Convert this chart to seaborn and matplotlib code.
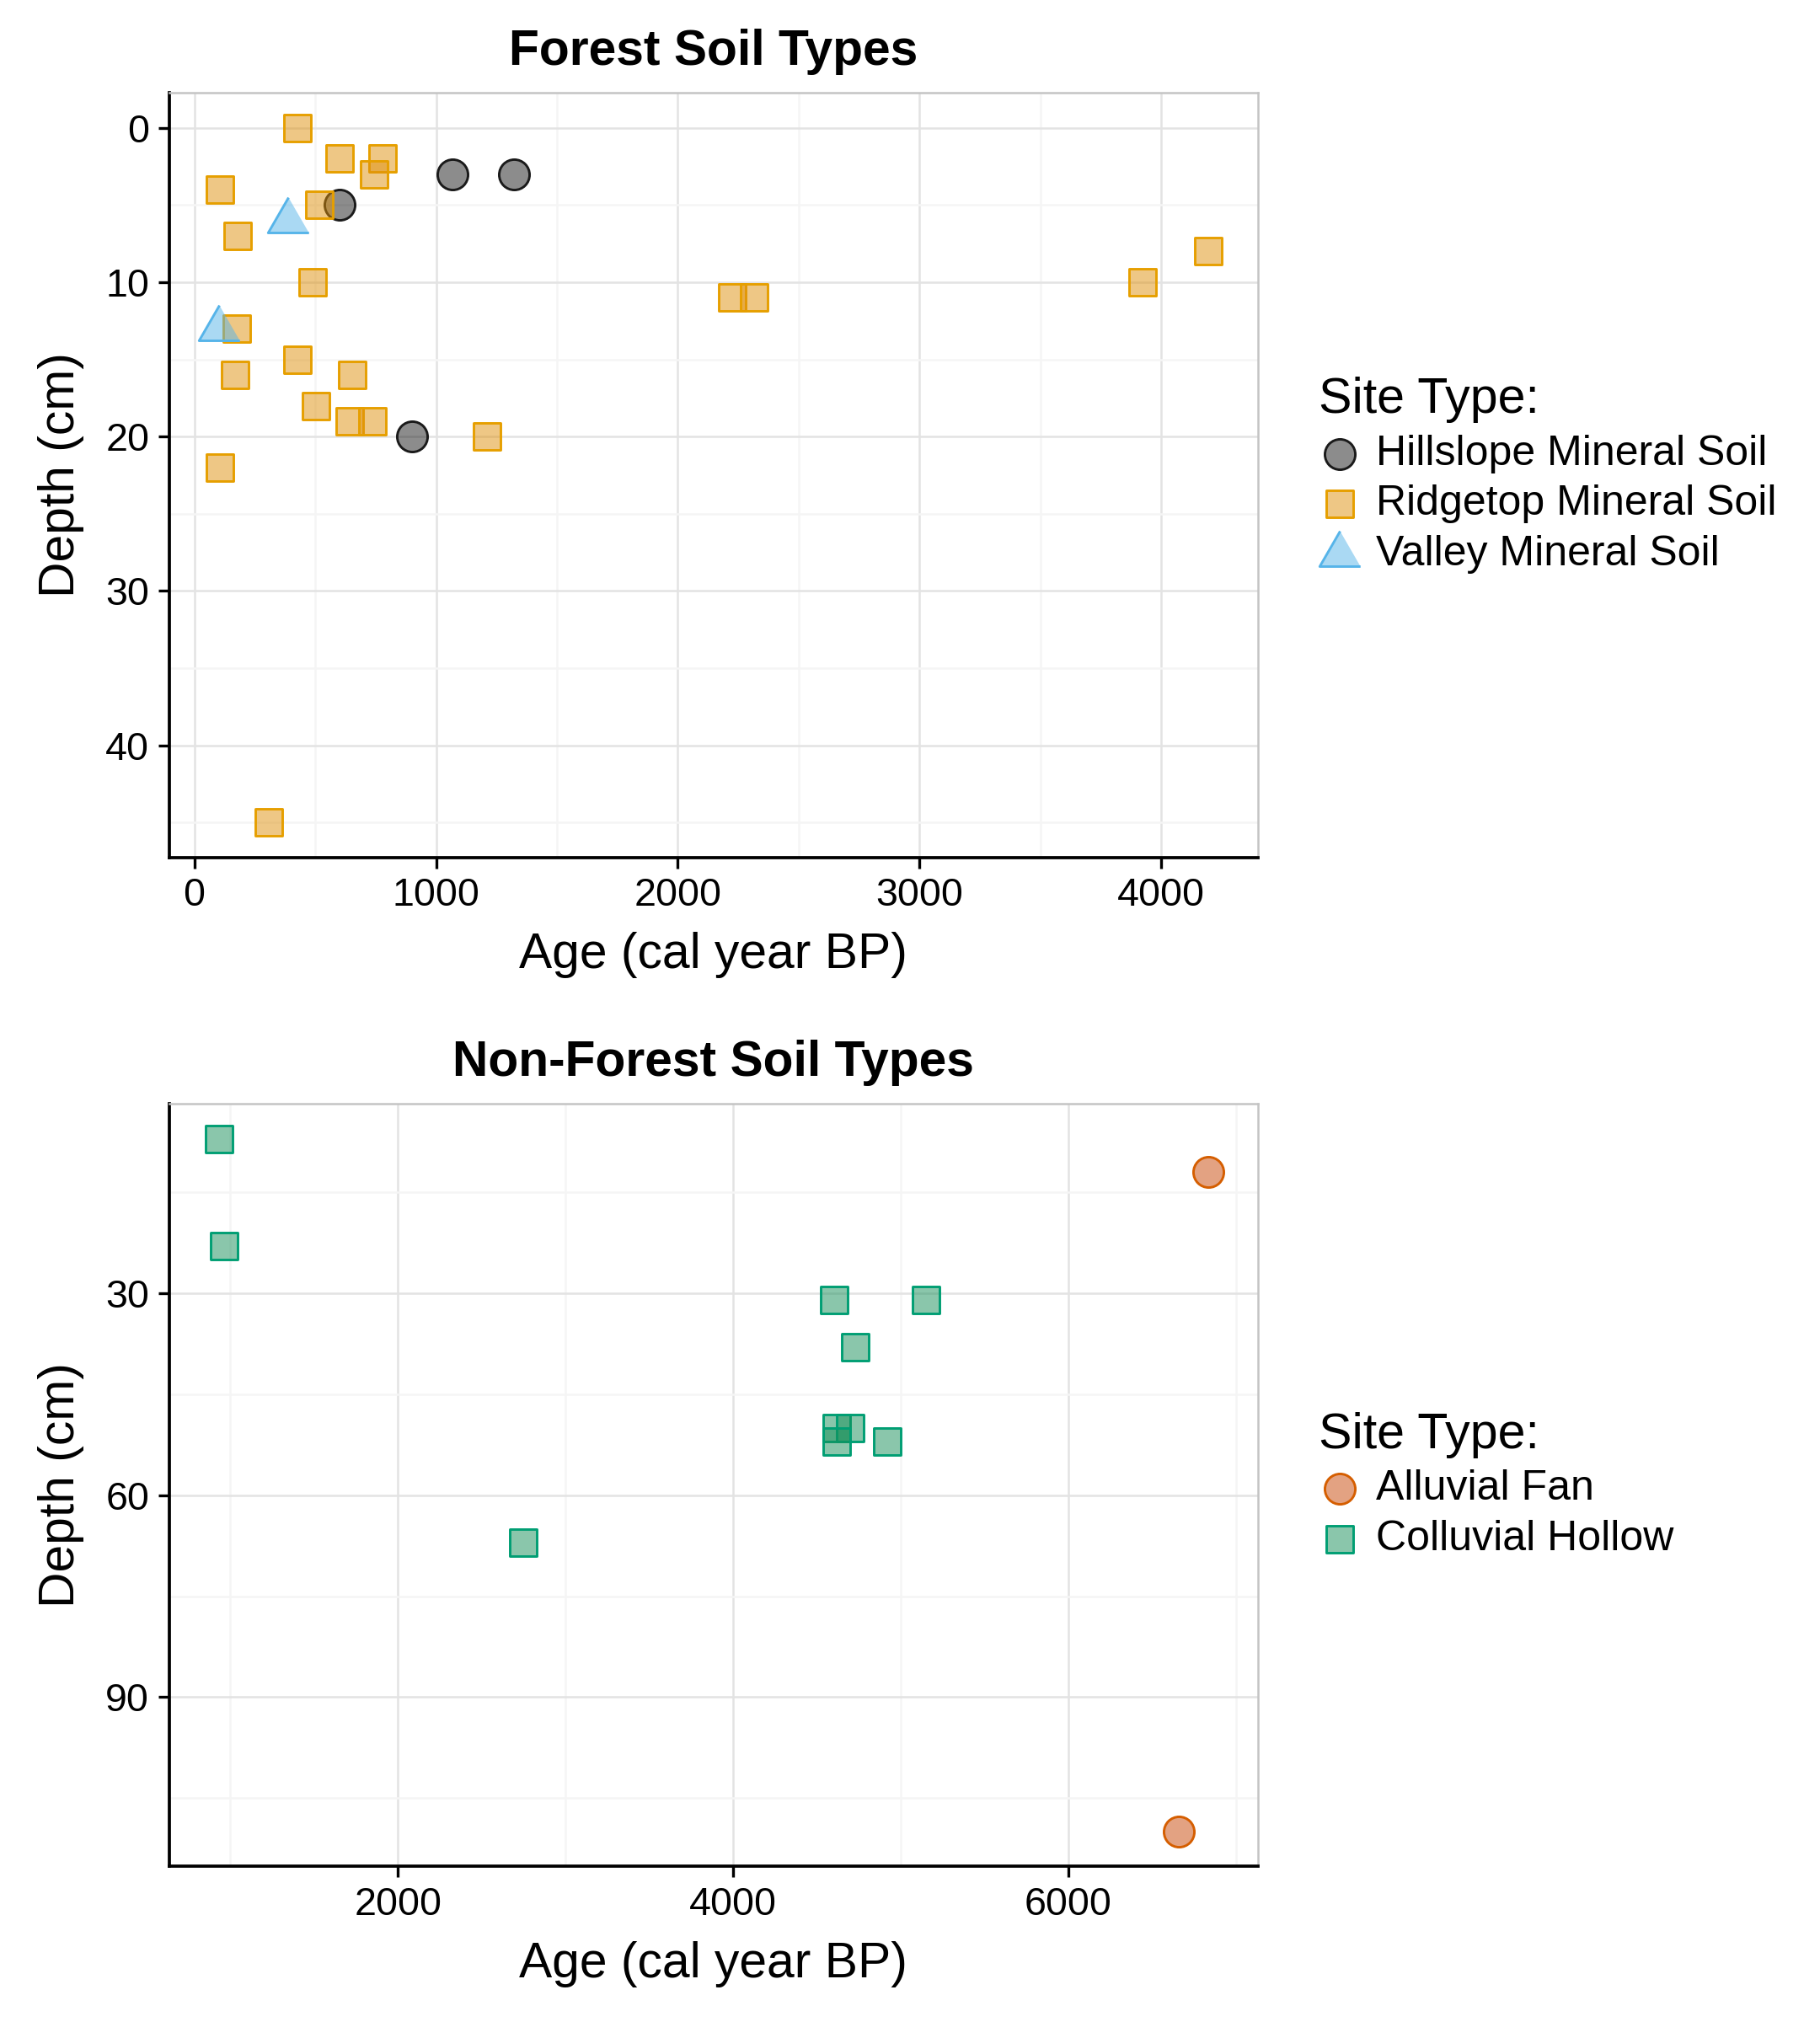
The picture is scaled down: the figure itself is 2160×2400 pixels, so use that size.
import numpy as np
import pandas as pd
import matplotlib
matplotlib.use("Agg")
import matplotlib.pyplot as plt
from matplotlib.ticker import MultipleLocator
import seaborn as sns

# ─── Data ─────────────────────────────────────────────────────────────────────
hill_age     = [602, 1068, 1322, 902]
hill_depth   = [5, 3, 3, 20]

ridge_age    = [428, 602, 779, 745, 107, 518, 179, 490, 174, 428, 168,
                652, 505, 642, 736, 1211, 107, 308, 2224, 2316, 3924, 4194]
ridge_depth  = [0, 2, 2, 3, 4, 5, 7, 10, 13, 15, 16,
                16, 18, 19, 19, 20, 22, 45, 11, 11, 10, 8]

valley_age   = [387, 101]
valley_depth = [6, 13]

fan_age      = [6835, 6662]
fan_depth    = [12, 110]

hollow_age   = [931, 961, 4602, 5152, 4727, 4619, 4701, 4619, 4918, 2749]
hollow_depth = [7, 23, 31, 31, 38, 50, 50, 52, 52, 67]

forest_types    = ['Hillslope Mineral Soil', 'Ridgetop Mineral Soil', 'Valley Mineral Soil']
nonforest_types = ['Alluvial Fan', 'Colluvial Hollow']

# ─── Styles ───────────────────────────────────────────────────────────────────
TRI = [(0, 0.577), (-0.5, -0.289), (0.5, -0.289)]   # equilateral, centred on centroid

styles = {
    'Hillslope Mineral Soil': dict(marker='o', s=75,  face=(0, 0, 0, 0.45),            edge='#1a1a1a'),
    'Ridgetop Mineral Soil':  dict(marker='s', s=59,  face=(0.875, 0.57, 0.05, 0.5),   edge='#E69F00'),
    'Valley Mineral Soil':    dict(marker=TRI, s=180, face=(0.337, 0.706, 0.914, 0.5), edge='#56B4E9'),
    'Alluvial Fan':           dict(marker='o', s=75,  face=(0.788, 0.278, 0.027, 0.5), edge='#D55E00'),
    'Colluvial Hollow':       dict(marker='s', s=59,  face=(0.09, 0.56, 0.35, 0.5),    edge='#009E73'),
}


def make_df(pairs):
    frames = []
    for name, age, depth in pairs:
        frames.append(pd.DataFrame({'age': age, 'depth': depth, 'site': name}))
    return pd.concat(frames, ignore_index=True)


forest_df = make_df([
    (forest_types[0], hill_age, hill_depth),
    (forest_types[1], ridge_age, ridge_depth),
    (forest_types[2], valley_age, valley_depth),
])
nonforest_df = make_df([
    (nonforest_types[0], fan_age, fan_depth),
    (nonforest_types[1], hollow_age, hollow_depth),
])

# ─── Theme ────────────────────────────────────────────────────────────────────
sns.set_style("white")
plt.rcParams['font.family'] = ['Liberation Sans', 'DejaVu Sans']
plt.rcParams['text.color'] = 'black'
plt.rcParams['axes.labelcolor'] = 'black'
plt.rcParams['axes.titlecolor'] = 'black'


def padded(lo, hi, frac=0.05):
    r = hi - lo
    return lo - frac * r, hi + frac * r


def draw_panel(ax, df, order, title, xmaj, xmin, ymaj, ymin):
    for name in order:
        st = styles[name]
        sub = df[df['site'] == name]
        sns.scatterplot(data=sub, x='age', y='depth', ax=ax,
                        marker=st['marker'], s=st['s'],
                        color=st['face'], edgecolor=st['edge'],
                        linewidth=0.7, label=name, zorder=3)

    ax.set_xlim(*padded(df['age'].min(), df['age'].max()))
    lo, hi = padded(df['depth'].min(), df['depth'].max())
    ax.set_ylim(hi, lo)

    ax.xaxis.set_major_locator(MultipleLocator(xmaj))
    ax.xaxis.set_minor_locator(MultipleLocator(xmin))
    ax.yaxis.set_major_locator(MultipleLocator(ymaj))
    ax.yaxis.set_minor_locator(MultipleLocator(ymin))

    ax.set_axisbelow(True)
    ax.grid(which='major', color='#e3e3e3', linewidth=0.6)
    ax.grid(which='minor', color='#f5f5f5', linewidth=0.6)

    for side in ['top', 'right']:
        ax.spines[side].set_color('#c4c4c4')
        ax.spines[side].set_linewidth(0.6)
    for side in ['left', 'bottom']:
        ax.spines[side].set_color('black')
        ax.spines[side].set_linewidth(0.9)

    ax.tick_params(which='major', left=True, bottom=True, length=3.2, width=0.8,
                   color='black', labelsize=11.2, labelcolor='black', pad=2.5)
    ax.tick_params(which='minor', length=0)

    ax.set_title(title, fontsize=14.1, fontweight='bold', pad=8)
    ax.set_xlabel('Age (cal year BP)', fontsize=14.1, labelpad=5)
    ax.set_ylabel('Depth (cm)', fontsize=14.1, labelpad=6)

    handles, labels = ax.get_legend_handles_labels()
    ax.legend(handles, labels, title='Site Type:', loc='center left',
              bbox_to_anchor=(1.056, 0.5), frameon=False,
              fontsize=12, title_fontsize=14.2, alignment='left',
              borderaxespad=0, borderpad=0, handlelength=1.0,
              handletextpad=0.36, labelspacing=0.27)


fig = plt.figure(figsize=(7.2, 8), dpi=300)
ax1 = fig.add_axes([0.093, 0.576, 0.598, 0.378])
ax2 = fig.add_axes([0.093, 0.077, 0.598, 0.377])

draw_panel(ax1, forest_df, forest_types, 'Forest Soil Types', 1000, 500, 10, 5)
draw_panel(ax2, nonforest_df, nonforest_types, 'Non-Forest Soil Types', 2000, 1000, 30, 15)

fig.savefig('out.png', dpi=300, facecolor='white')
